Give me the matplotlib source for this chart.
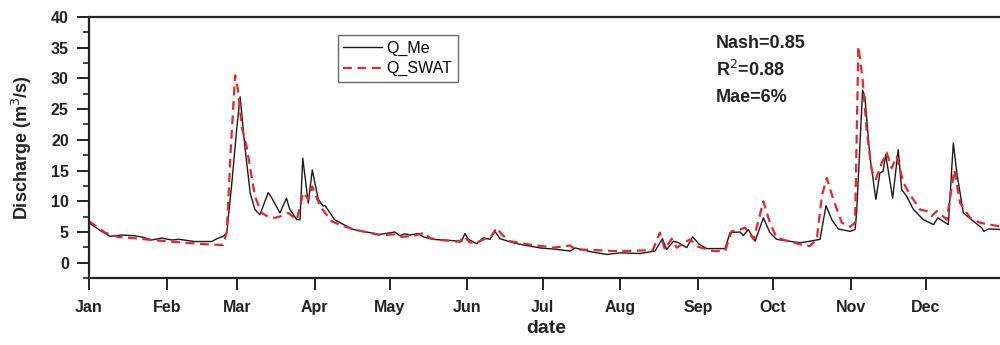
import matplotlib
matplotlib.use("Agg")
import matplotlib.pyplot as plt
from matplotlib.ticker import MultipleLocator

plt.rcParams['font.family'] = ['Liberation Sans', 'DejaVu Sans']

# Day of year (0 = Jan 1) and discharge values
obs_day = [0, 5, 8.4, 13, 18, 22, 25, 29, 33, 36, 42, 49, 51, 53.6, 55, 57, 59, 60.3, 61, 62.2,
           64.3, 66.2, 68.2, 71.5, 73, 76.2, 78.8, 80, 82.9, 84.2, 85.3, 87.5, 89.1, 91.5, 93.5,
           94.2, 98, 100.2, 105.5, 108, 116, 122, 124, 126, 128, 131.4, 133.4, 137.4, 148.7, 150,
           151.4, 154.7, 157.3, 160, 162, 164, 169.3, 172, 180, 186, 192, 194, 196.6, 200, 206.6,
           212, 219.9, 225.9, 228.8, 230.5, 233.2, 235.2, 238.5, 240.9, 243.5, 246.5, 253.8, 255.8,
           259.8, 261.1, 263.1, 265.8, 269.1, 271.7, 274.4, 283.7, 287.7, 291.7, 294.1, 296.4, 299,
           303.7, 305.7, 306.3, 308.7, 309.6, 311.6, 312.7, 314, 315.6, 316.9, 317.9, 320.7, 322.9,
           324.3, 326.3, 329, 333, 337, 338.7, 342.9, 344.9, 346.3, 348.9, 352.9, 356.2, 357.1,
           358.9, 364]
obs_val = [6.5, 5.1, 4.3, 4.5, 4.4, 4.1, 3.7, 4.0, 3.7, 3.8, 3.45, 3.45, 3.9, 4.3, 4.9, 13, 22, 27.0,
           24, 18.9, 11.4, 8.65, 7.8, 11.4, 10.5, 8.1, 10.5, 8.8, 7.0, 7.0, 17.0, 9.7, 15.1, 10.3,
           9.2, 9.3, 7.0, 6.5, 5.4, 5.2, 4.6, 5.0, 4.4, 4.7, 4.5, 4.75, 4.2, 3.8, 3.5, 4.75, 3.8,
           3.1, 4.05, 3.8, 5.1, 3.9, 3.25, 3.0, 2.4, 2.2, 1.9, 2.4, 2.15, 1.8, 1.35, 1.6, 1.5, 1.9,
           3.9, 2.15, 3.5, 3.25, 2.45, 4.2, 3.0, 2.3, 2.3, 4.9, 5.0, 4.4, 5.4, 3.5, 7.3, 4.9, 3.8,
           3.25, 3.5, 3.8, 9.3, 7.0, 5.5, 5.1, 5.4, 8.1, 28.1, 27.0, 17.3, 14.1, 10.3, 14.6, 14.9,
           17.6, 10.5, 18.4, 11.9, 10.8, 8.65, 7.0, 6.2, 7.3, 6.2, 19.5, 14.6, 8.1, 6.75, 5.7, 5.1,
           5.5, 5.4]

sim_day = [0, 6.4, 11.6, 18, 25, 31, 38, 45, 51.6, 53.5, 55, 56.5, 58.3, 59.5, 61, 62.9, 66.2,
           68.9, 71, 74.2, 76.9, 79.5, 82.9, 85.5, 87.5, 89.1, 92.2, 96.8, 100, 105.5, 108, 116,
           122, 125, 130, 134, 136, 140, 148, 149.6, 152, 155, 158, 160, 162.7, 164.7, 168, 175,
           185.3, 192, 194, 200, 209, 218, 225, 227.8, 229.8, 232.5, 234.5, 239.8, 243, 249.1,
           253.8, 256.4, 259.8, 261.8, 265.2, 269.1, 271.7, 274.4, 283.7, 287.7, 290.4, 292.5,
           294.4, 297, 300.4, 303.7, 305.7, 307, 308.7, 310.3, 312.3, 314, 316.3, 318.3, 320.3,
           322.3, 325, 327.6, 331.6, 334.3, 336.3, 338.3, 342.3, 345.3, 347.6, 351.6, 355.6, 364]
sim_val = [6.75, 4.9, 4.2, 4.0, 3.7, 3.5, 3.25, 3.05, 2.9, 2.9, 5, 18, 30.5, 28, 22, 18.9, 10.8,
           8.1, 7.6, 7.3, 7.6, 8.1, 7.0, 11.4, 10.3, 12.4, 9.2, 6.75, 6.2, 5.4, 5.2, 4.5, 4.6, 4.2,
           4.4, 4.9, 4.0, 3.7, 3.4, 4.3, 3.3, 3.3, 3.9, 4.0, 5.7, 4.6, 3.5, 3.0, 2.45, 2.8, 2.15,
           2.1, 1.9, 1.95, 2.05, 4.9, 2.15, 3.9, 2.45, 3.8, 2.6, 1.9, 1.9, 5.1, 5.4, 5.7, 3.8, 10.0,
           6.5, 4.05, 3.0, 2.7, 3.8, 11, 13.8, 10.3, 6.5, 5.85, 6.5, 35.2, 29.8, 21.6, 15.1, 13.6,
           16.2, 17.9, 15.4, 17.3, 13.0, 11.1, 8.65, 8.4, 7.6, 8.4, 7.0, 15.1, 9.7, 7.3, 6.5, 5.85]

month_starts = [0, 31, 59, 90, 120, 151, 181, 212, 243, 273, 304, 334]
month_labels = ['Jan', 'Feb', 'Mar', 'Apr', 'May', 'Jun', 'Jul', 'Aug', 'Sep', 'Oct', 'Nov', 'Dec']
stats_text = ['Nash=0.85', 'R$^2$=0.88', 'Mae=6%']

fig = plt.figure(figsize=(10, 3.45), dpi=100)
ax = fig.add_axes([0.089, 0.194, 0.9147, 0.757])

ax.plot(obs_day, obs_val, color='#1a1a1a', lw=1.0, label='Q_Me')
ax.plot(sim_day, sim_val, color='#e8262b', lw=1.6, dashes=(4, 2.5), label='Q_SWAT')

ax.set_xlim(0, 365)
ax.set_ylim(-2.5, 40)
ax.set_xticks(month_starts)
ax.set_xticklabels(month_labels)
ax.yaxis.set_major_locator(MultipleLocator(5))
ax.yaxis.set_minor_locator(MultipleLocator(2.5))

for s in ['left', 'bottom', 'top']:
    ax.spines[s].set_linewidth(1.6)
    ax.spines[s].set_color('#222222')
ax.spines['right'].set_visible(False)

ax.tick_params(axis='both', which='major', direction='out', length=8.5, width=1.4,
               color='#222222', labelsize=11.5, labelcolor='#222222')
ax.tick_params(axis='y', which='major', pad=6)
ax.tick_params(axis='x', which='major', pad=7)
ax.tick_params(axis='y', which='minor', direction='out', length=4.3, width=1.2, color='#222222')
for lab in ax.get_xticklabels() + ax.get_yticklabels():
    lab.set_fontweight('bold')

ax.set_ylabel('Discharge (m$^3$/s)', fontsize=13, fontweight='bold', color='#222222', labelpad=12)
ax.set_xlabel('date', fontsize=14, fontweight='bold', color='#222222', labelpad=4)

leg = ax.legend(loc='upper left', bbox_to_anchor=(0.272, 0.931), borderaxespad=0,
                fontsize=11.5, frameon=True, fancybox=False, edgecolor='#444444',
                handlelength=2.4, borderpad=0.35, labelspacing=0.35, handletextpad=0.3)
leg.get_frame().set_linewidth(1.0)

for i, t in enumerate(stats_text):
    ax.text(0.6855, 0.898 - i * 0.103, t, transform=ax.transAxes, fontsize=13,
            fontweight='bold', color='#222222', va='center', ha='left')

fig.savefig('out.png', dpi=100, facecolor='white')
